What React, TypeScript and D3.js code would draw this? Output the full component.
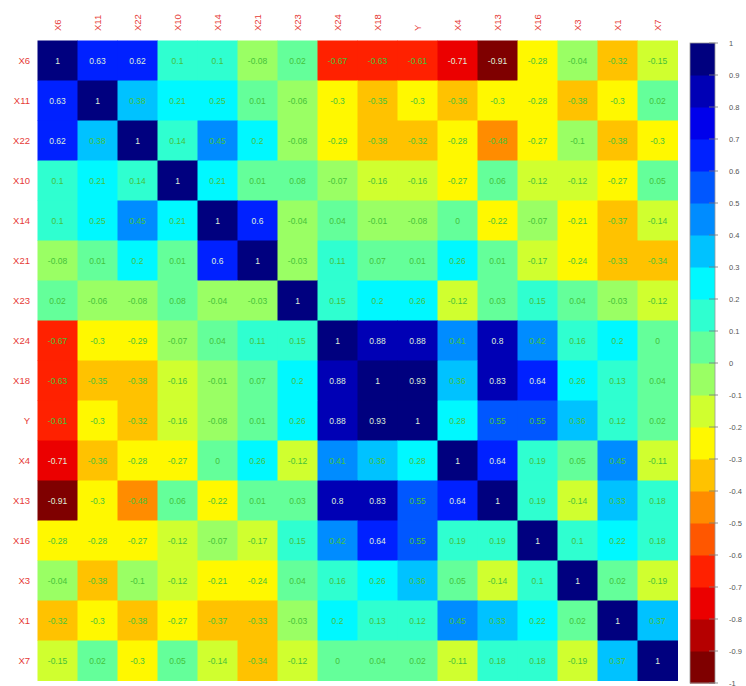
import React from "react";
import * as d3 from "d3";

// Variable names in the order they appear on both axes
const labels = ["X6", "X11", "X22", "X10", "X14", "X21", "X23", "X24", "X18", "Y", "X4", "X13", "X16", "X3", "X1", "X7"];

// Correlation coefficients, one row per variable
const rowX6 = [1, 0.63, 0.62, 0.1, 0.1, -0.08, 0.02, -0.67, -0.63, -0.61, -0.71, -0.91, -0.28, -0.04, -0.32, -0.15];
const rowX11 = [0.63, 1, 0.38, 0.21, 0.25, 0.01, -0.06, -0.3, -0.35, -0.3, -0.36, -0.3, -0.28, -0.38, -0.3, 0.02];
const rowX22 = [0.62, 0.38, 1, 0.14, 0.45, 0.2, -0.08, -0.29, -0.38, -0.32, -0.28, -0.48, -0.27, -0.1, -0.38, -0.3];
const rowX10 = [0.1, 0.21, 0.14, 1, 0.21, 0.01, 0.08, -0.07, -0.16, -0.16, -0.27, 0.06, -0.12, -0.12, -0.27, 0.05];
const rowX14 = [0.1, 0.25, 0.45, 0.21, 1, 0.6, -0.04, 0.04, -0.01, -0.08, 0, -0.22, -0.07, -0.21, -0.37, -0.14];
const rowX21 = [-0.08, 0.01, 0.2, 0.01, 0.6, 1, -0.03, 0.11, 0.07, 0.01, 0.26, 0.01, -0.17, -0.24, -0.33, -0.34];
const rowX23 = [0.02, -0.06, -0.08, 0.08, -0.04, -0.03, 1, 0.15, 0.2, 0.26, -0.12, 0.03, 0.15, 0.04, -0.03, -0.12];
const rowX24 = [-0.67, -0.3, -0.29, -0.07, 0.04, 0.11, 0.15, 1, 0.88, 0.88, 0.41, 0.8, 0.42, 0.16, 0.2, 0];
const rowX18 = [-0.63, -0.35, -0.38, -0.16, -0.01, 0.07, 0.2, 0.88, 1, 0.93, 0.36, 0.83, 0.64, 0.26, 0.13, 0.04];
const rowY = [-0.61, -0.3, -0.32, -0.16, -0.08, 0.01, 0.26, 0.88, 0.93, 1, 0.28, 0.55, 0.55, 0.36, 0.12, 0.02];
const rowX4 = [-0.71, -0.36, -0.28, -0.27, 0, 0.26, -0.12, 0.41, 0.36, 0.28, 1, 0.64, 0.19, 0.05, 0.45, -0.11];
const rowX13 = [-0.91, -0.3, -0.48, 0.06, -0.22, 0.01, 0.03, 0.8, 0.83, 0.55, 0.64, 1, 0.19, -0.14, 0.33, 0.18];
const rowX16 = [-0.28, -0.28, -0.27, -0.12, -0.07, -0.17, 0.15, 0.42, 0.64, 0.55, 0.19, 0.19, 1, 0.1, 0.22, 0.18];
const rowX3 = [-0.04, -0.38, -0.1, -0.12, -0.21, -0.24, 0.04, 0.16, 0.26, 0.36, 0.05, -0.14, 0.1, 1, 0.02, -0.19];
const rowX1 = [-0.32, -0.3, -0.38, -0.27, -0.37, -0.33, -0.03, 0.2, 0.13, 0.12, 0.45, 0.33, 0.22, 0.02, 1, 0.37];
const rowX7 = [-0.15, 0.02, -0.3, 0.05, -0.14, -0.34, -0.12, 0, 0.04, 0.02, -0.11, 0.18, 0.18, -0.19, 0.37, 1];

const matrix = [rowX6, rowX11, rowX22, rowX10, rowX14, rowX21, rowX23, rowX24, rowX18, rowY, rowX4, rowX13, rowX16, rowX3, rowX1, rowX7];

// Colour-key tick values
const keyTicks = d3.range(20, -21, -2).map((k) => k / 20);

// Jet-style anchors, from -1 (dark red) up to +1 (dark blue)
const jetAnchors = ["#7F0000", "red", "#FF7F00", "yellow", "#7FFF7F", "cyan", "#007FFF", "blue", "#00007F"];
const nBands = 20;

const W = 746;
const H = 686;
const gridLeft = 37.5;
const gridTop = 40.5;
const gridSize = 640;
const keyLeft = 690;
const keyWidth = 25;
const keyTop = 43;
const keyBottom = 683;

export default function App() {
  const ramp = d3.scaleLinear<string>()
    .domain(d3.range(jetAnchors.length).map((i) => i / (jetAnchors.length - 1)))
    .range(jetAnchors)
    .interpolate(d3.interpolateRgb);
  const palette = d3.range(nBands).map((i) => ramp(i / (nBands - 1)));

  const band = (v: number) => Math.max(0, Math.min(nBands - 1, Math.floor((v + 1) * (nBands / 2))));

  const x = d3.scaleBand<string>().domain(labels).range([gridLeft, gridLeft + gridSize]);
  const y = d3.scaleBand<string>().domain(labels).range([gridTop, gridTop + gridSize]);
  const keyY = d3.scaleLinear().domain([1, -1]).range([keyTop, keyBottom]);

  const fmt = (v: number) => String(+v.toFixed(2));
  const textColor = (b: number) => (b >= 16 || b <= 2 ? "#dfeed8" : "#45c23a");

  const font = "'Liberation Sans', Arial, sans-serif";

  return (
    <svg width={W} height={H} style={{ position: "absolute", left: 0, top: 0, background: "#fff" }} fontFamily={font}>
      <g>
        {matrix.map((row, i) =>
          row.map((v, j) => (
            <rect
              key={`c${i}-${j}`}
              x={x(labels[j])}
              y={y(labels[i])}
              width={x.bandwidth() + 0.5}
              height={y.bandwidth() + 0.5}
              fill={palette[band(v)]}
            />
          ))
        )}
        {matrix.map((row, i) =>
          row.map((v, j) => (
            <text
              key={`t${i}-${j}`}
              x={(x(labels[j]) ?? 0) + x.bandwidth() / 2}
              y={(y(labels[i]) ?? 0) + y.bandwidth() / 2}
              textAnchor="middle"
              dominantBaseline="central"
              fontSize={8.5}
              fill={textColor(band(v))}
            >
              {fmt(v)}
            </text>
          ))
        )}
      </g>
      <g fill="#e63b37" fontSize={9.5}>
        {labels.map((l) => (
          <text
            key={`left-${l}`}
            x={30}
            y={(y(l) ?? 0) + y.bandwidth() / 2}
            textAnchor="end"
            dominantBaseline="central"
          >
            {l}
          </text>
        ))}
        {labels.map((l) => {
          const cx = (x(l) ?? 0) + x.bandwidth() / 2;
          return (
            <text
              key={`top-${l}`}
              transform={`translate(${cx},31) rotate(-90)`}
              textAnchor="start"
              dominantBaseline="central"
            >
              {l}
            </text>
          );
        })}
      </g>
      <g>
        {palette.map((c, i) => (
          <rect
            key={`k${i}`}
            x={keyLeft}
            y={keyY(-1 + (i + 1) * (2 / nBands))}
            width={keyWidth}
            height={(keyBottom - keyTop) / nBands + 0.5}
            fill={c}
          />
        ))}
        <rect x={keyLeft} y={keyTop} width={keyWidth} height={keyBottom - keyTop} fill="none" stroke="#9a9a9a" strokeWidth={0.8} />
        {keyTicks.map((t) => (
          <g key={`kt${t}`}>
            <line x1={keyLeft + keyWidth - 6} x2={keyLeft + keyWidth + 3} y1={keyY(t)} y2={keyY(t)} stroke="#7a7a7a" strokeWidth={0.8} />
            <text x={729} y={keyY(t)} dominantBaseline="central" fontSize={7.5} fill="#555">
              {fmt(t)}
            </text>
          </g>
        ))}
      </g>
    </svg>
  );
}
